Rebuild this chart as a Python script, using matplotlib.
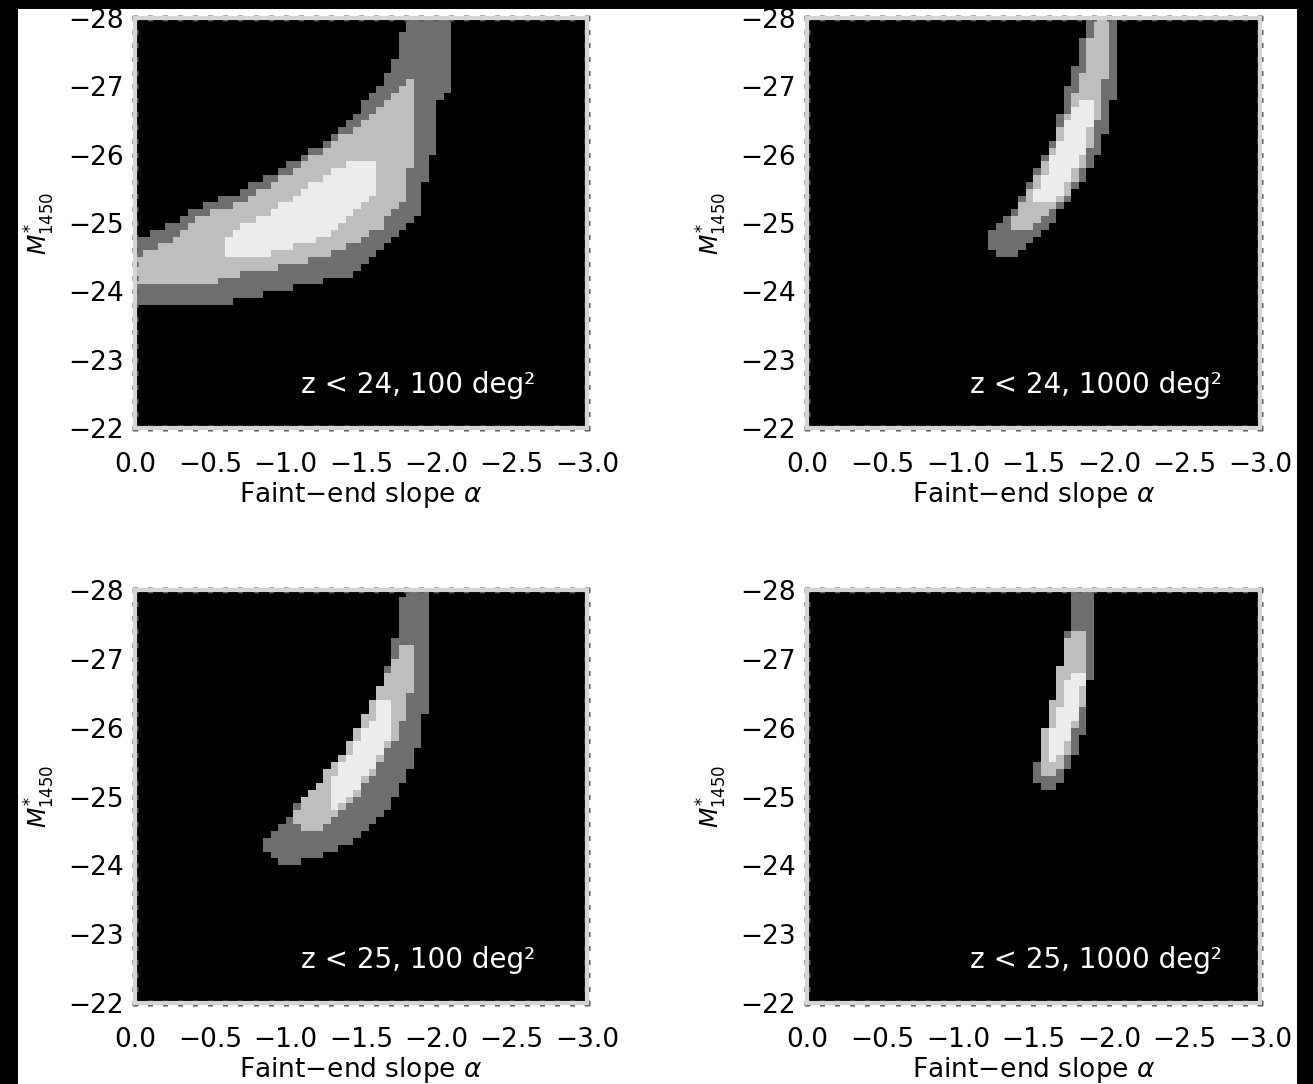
import numpy as np
import matplotlib
matplotlib.use("Agg")
import matplotlib.pyplot as plt
from matplotlib.path import Path
from matplotlib.colors import ListedColormap
from matplotlib.patches import Rectangle
from matplotlib.ticker import MultipleLocator

# likelihood grid (faint-end slope alpha, M*_1450)
alpha_edges = np.linspace(0.0, -3.0, 61)
mag_edges = np.linspace(-28.0, -22.0, 61)

panel_labels = ["z < 24, 100 deg²", "z < 24, 1000 deg²",
                "z < 25, 100 deg²", "z < 25, 1000 deg²"]
x_ticks = [0.0, -0.5, -1.0, -1.5, -2.0, -2.5, -3.0]
y_ticks = [-28, -27, -26, -25, -24, -23, -22]

# confidence region outlines, (alpha, M*) vertices
# outer = dark grey, mid = light grey, inner = near white
p1_outer = [(0, -24.75), (-0.21, -24.94), (-0.37, -25.19), (-0.68, -25.45), (-0.95, -25.78),
            (-1.21, -26.11), (-1.45, -26.58), (-1.63, -26.99), (-1.74, -27.43), (-1.79, -27.9),
            (-1.83, -28.0), (-2.08, -28.0), (-2.08, -26.92), (-2.03, -26.92), (-2.01, -26.26),
            (-1.95, -25.88), (-1.87, -25.09), (-1.63, -24.56), (-1.40, -24.21), (-1.15, -24.10),
            (-0.92, -23.97), (-0.62, -23.84), (0, -23.84)]
p1_mid = [(0, -24.50), (-0.21, -24.71), (-0.42, -25.09), (-0.68, -25.29), (-0.95, -25.63),
          (-1.18, -25.97), (-1.42, -26.32), (-1.63, -26.70), (-1.79, -27.07), (-1.82, -27.09),
          (-1.87, -26.95), (-1.84, -26.02), (-1.79, -25.38), (-1.63, -24.94), (-1.42, -24.65),
          (-1.11, -24.41), (-0.76, -24.27), (-0.37, -24.06), (-0.24, -24.06), (-0.24, -24.13),
          (0, -24.13)]
p1_inner = [(-0.58, -24.71), (-0.68, -24.94), (-0.95, -25.23), (-1.21, -25.63), (-1.47, -25.95),
            (-1.62, -25.95), (-1.62, -25.92), (-1.58, -25.44), (-1.42, -25.04), (-1.21, -24.75),
            (-0.95, -24.56), (-0.76, -24.49), (-0.58, -24.49)]

p2_outer = [(-1.86, -28), (-1.82, -27.68), (-1.77, -27.28), (-1.70, -26.80), (-1.62, -26.21),
            (-1.53, -25.82), (-1.42, -25.38), (-1.32, -25.04), (-1.22, -24.85), (-1.22, -24.65),
            (-1.26, -24.50), (-1.37, -24.50), (-1.52, -24.80), (-1.67, -25.14), (-1.81, -25.58),
            (-1.92, -25.97), (-1.99, -26.36), (-2.02, -26.80), (-2.06, -26.99), (-2.06, -28)]
p2_mid = [(-1.90, -28), (-1.86, -27.5), (-1.80, -27.0), (-1.72, -26.6), (-1.64, -26.21),
          (-1.55, -25.82), (-1.46, -25.44), (-1.38, -25.14), (-1.36, -24.90), (-1.48, -24.90),
          (-1.60, -25.09), (-1.73, -25.44), (-1.84, -25.82), (-1.91, -26.31), (-1.95, -26.85),
          (-2.01, -27.5), (-2.02, -28)]
p2_inner = [(-1.81, -26.84), (-1.76, -26.65), (-1.68, -26.21), (-1.59, -25.82), (-1.51, -25.44),
            (-1.51, -25.29), (-1.60, -25.29), (-1.68, -25.44), (-1.76, -25.73), (-1.84, -26.07),
            (-1.88, -26.41), (-1.90, -26.84)]

p3_outer = [(-1.78, -28), (-1.97, -28), (-1.97, -26.87), (-1.93, -26.87), (-1.93, -26.26),
            (-1.89, -25.86), (-1.83, -25.38), (-1.70, -24.90), (-1.58, -24.61), (-1.42, -24.32),
            (-1.21, -24.12), (-1.10, -24.05), (-0.95, -24.05), (-0.87, -24.18), (-0.83, -24.29),
            (-0.89, -24.47), (-1.05, -24.80), (-1.21, -25.19), (-1.39, -25.67), (-1.55, -26.11),
            (-1.65, -26.65), (-1.73, -27.32)]
p3_mid = [(-1.78, -27.24), (-1.86, -27.24), (-1.86, -26.69), (-1.81, -26.36), (-1.73, -25.86),
          (-1.62, -25.49), (-1.47, -24.99), (-1.31, -24.70), (-1.21, -24.47), (-1.13, -24.47),
          (-1.07, -24.61), (-1.07, -24.80), (-1.21, -25.19), (-1.34, -25.53), (-1.47, -25.97),
          (-1.60, -26.45), (-1.70, -26.94)]
p3_inner = [(-1.62, -26.36), (-1.70, -26.36), (-1.70, -25.97), (-1.62, -25.57), (-1.52, -25.28),
            (-1.42, -24.99), (-1.36, -24.85), (-1.28, -24.85), (-1.28, -25.19), (-1.39, -25.53),
            (-1.50, -25.86), (-1.58, -26.15)]

p4_outer = [(-1.77, -28), (-1.89, -28), (-1.89, -26.66), (-1.85, -26.66), (-1.85, -26.07),
            (-1.79, -25.72), (-1.73, -25.43), (-1.68, -25.19), (-1.59, -25.06), (-1.52, -25.19),
            (-1.52, -25.43), (-1.56, -25.72), (-1.62, -26.36), (-1.68, -26.94), (-1.73, -27.42)]
p4_mid = [(-1.74, -27.45), (-1.86, -27.45), (-1.86, -26.74), (-1.83, -26.36), (-1.79, -26.07),
          (-1.75, -25.78), (-1.70, -25.49), (-1.64, -25.30), (-1.54, -25.30), (-1.53, -25.55),
          (-1.55, -25.78), (-1.58, -26.07), (-1.63, -26.45), (-1.68, -26.98), (-1.72, -27.3)]
p4_inner = [(-1.75, -26.80), (-1.83, -26.80), (-1.82, -26.45), (-1.78, -26.11), (-1.72, -25.78),
            (-1.67, -25.55), (-1.58, -25.55), (-1.60, -25.78), (-1.64, -26.11), (-1.69, -26.45)]

regions = [(p1_outer, p1_mid, p1_inner), (p2_outer, p2_mid, p2_inner),
           (p3_outer, p3_mid, p3_inner), (p4_outer, p4_mid, p4_inner)]

cmap = ListedColormap(["black", "#6e6e6e", "#bebebe", "#ececec"])

fig = plt.figure(figsize=(13.13, 10.84), dpi=100)
fig.patch.set_facecolor("white")

# axes frames in figure fraction
positions = [[0.1028, 0.6052, 0.3443, 0.3782], [0.6146, 0.6052, 0.3450, 0.3782],
             [0.1028, 0.0747, 0.3443, 0.3810], [0.6146, 0.0747, 0.3450, 0.3810]]
label_x = [0.885, 0.916, 0.885, 0.916]

ac = 0.5 * (alpha_edges[:-1] + alpha_edges[1:])
mc = 0.5 * (mag_edges[:-1] + mag_edges[1:])
AA, MM = np.meshgrid(ac, mc)
pts = np.column_stack([AA.ravel(), MM.ravel()])

for i in range(4):
    ax = fig.add_axes(positions[i])
    level = np.zeros(len(pts))
    for lvl, poly in enumerate(regions[i], 1):
        inside = Path(poly).contains_points(pts)
        level[inside] = np.maximum(level[inside], lvl)
    ax.pcolormesh(alpha_edges, mag_edges, level.reshape(AA.shape), cmap=cmap,
                  vmin=-0.5, vmax=3.5, shading="flat")
    ax.set_xlim(0, -3)
    ax.set_ylim(-22, -28)
    ax.set_xticks(x_ticks)
    ax.set_xticklabels(["%.1f" % v if v == 0 else "\u2212%.1f" % -v for v in x_ticks])
    ax.set_yticks(y_ticks)
    ax.set_yticklabels(["\u2212%d" % -v for v in y_ticks])
    ax.xaxis.set_minor_locator(MultipleLocator(0.1))
    ax.yaxis.set_minor_locator(MultipleLocator(0.2))
    for s in ax.spines.values():
        s.set_color("#d4d4d4")
        s.set_linewidth(3)
    ax.tick_params(which="both", direction="inout", top=True, right=True,
                   color="#555555", length=4, width=3.5)
    ax.tick_params(which="major", labelsize=19, labelcolor="black")
    ax.tick_params(axis="x", which="major", pad=15)
    ax.tick_params(axis="y", which="major", pad=6)
    ax.set_xlabel("Faint\u2212end slope $\\alpha$", fontsize=19, labelpad=2)
    ax.set_ylabel("$M^{*}_{1450}$", fontsize=17, labelpad=8)
    ax.text(label_x[i], 0.105, panel_labels[i], transform=ax.transAxes, color="white",
            fontsize=20, ha="right", va="center")

# dark border strips of the original scan
for r in [(0, 0, 18 / 1313, 1), (0, 1 - 9 / 1084, 1, 9 / 1084), (1297 / 1313, 0, 16 / 1313, 1)]:
    fig.add_artist(Rectangle(r[:2], r[2], r[3], transform=fig.transFigure,
                             facecolor="black", edgecolor="none"))

fig.savefig("out.png", dpi=100)
